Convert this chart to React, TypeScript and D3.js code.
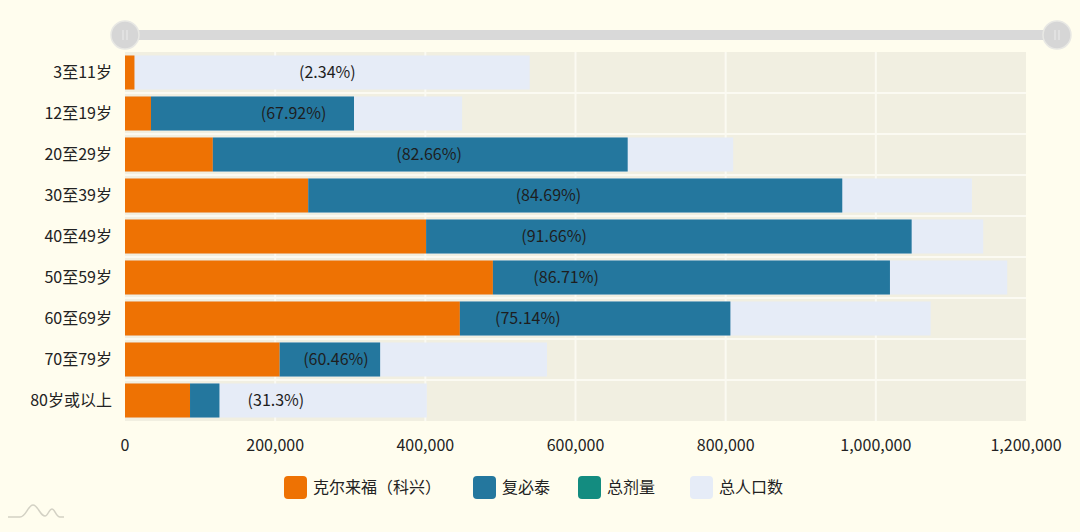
import React, { useRef, useEffect } from 'react';
import * as d3 from 'd3';

// 年龄组
const ageGroups = ['3至11岁', '12至19岁', '20至29岁', '30至39岁', '40至49岁', '50至59岁', '60至69岁', '70至79岁', '80岁或以上'];
// 克尔来福（科兴）
const sinovac = [12600, 34600, 117000, 244000, 401000, 490000, 446000, 206000, 86600];
// 复必泰
const biontech = [0, 270400, 552500, 711300, 646700, 528800, 360300, 133800, 39200];
// 总人口数
const population = [539000, 449000, 810000, 1128000, 1143000, 1175000, 1073000, 562000, 402000];
// 接种比例标签
const rateLabels = ['(2.34%)', '(67.92%)', '(82.66%)', '(84.69%)', '(91.66%)', '(86.71%)', '(75.14%)', '(60.46%)', '(31.3%)'];
const xTicks = [0, 200000, 400000, 600000, 800000, 1000000, 1200000];
const legendNames = ['克尔来福（科兴）', '复必泰', '总剂量', '总人口数'];

const W = 1080, H = 532;
const colors = ['#ee7203', '#24779e', '#138c80', '#e6ecf7'];
const FONT = '"Noto Sans CJK SC", "Noto Sans", sans-serif';
const FS = 16;

const App = () => {
  const ref = useRef<SVGSVGElement>(null);

  useEffect(() => {
    const svg = d3.select(ref.current);
    svg.selectAll('*').remove();

    svg.append('rect').attr('width', W).attr('height', H).attr('fill', '#fffdee');

    const x = d3.scaleLinear().domain([0, 1200000]).range([125, 1026]);
    const y = d3.scaleBand().domain(ageGroups).range([52, 421]).paddingInner(0.17).paddingOuter(0.085);

    // 背景
    svg.append('rect')
      .attr('x', x(0)).attr('y', 52)
      .attr('width', x(1200000) - x(0)).attr('height', 369)
      .attr('fill', '#f1efe1');

    // 网格线
    svg.selectAll('.vgrid')
      .data(xTicks.slice(1, -1))
      .enter().append('line')
        .attr('x1', d => x(d)).attr('x2', d => x(d))
        .attr('y1', 52).attr('y2', 421)
        .attr('stroke', '#fbfaf2').attr('stroke-width', 2);

    const step = y.step();
    svg.selectAll('.hgrid')
      .data(ageGroups.slice(1))
      .enter().append('line')
        .attr('x1', x(0)).attr('x2', x(1200000))
        .attr('y1', d => (y(d) as number) - (step - y.bandwidth()) / 2)
        .attr('y2', d => (y(d) as number) - (step - y.bandwidth()) / 2)
        .attr('stroke', '#fbfaf2').attr('stroke-width', 2);

    const rows = ageGroups.map((g, i) => ({ g, s: sinovac[i], b: biontech[i], p: population[i], label: rateLabels[i] }));

    // 总人口数
    svg.selectAll('.pop')
      .data(rows)
      .enter().append('rect')
        .attr('x', x(0))
        .attr('y', d => y(d.g) as number)
        .attr('width', d => x(d.p) - x(0))
        .attr('height', y.bandwidth())
        .attr('fill', colors[3]);

    // 科兴
    svg.selectAll('.sv')
      .data(rows)
      .enter().append('rect')
        .attr('x', x(0))
        .attr('y', d => y(d.g) as number)
        .attr('width', d => x(d.s) - x(0))
        .attr('height', y.bandwidth())
        .attr('fill', colors[0]);

    // 复必泰
    svg.selectAll('.bt')
      .data(rows.filter(d => d.b > 0))
      .enter().append('rect')
        .attr('x', d => x(d.s))
        .attr('y', d => y(d.g) as number)
        .attr('width', d => x(d.s + d.b) - x(d.s))
        .attr('height', y.bandwidth())
        .attr('fill', colors[1]);

    // 比例标签
    svg.selectAll('.lbl')
      .data(rows)
      .enter().append('text')
        .attr('x', d => (x(0) + x(d.p)) / 2)
        .attr('y', d => (y(d.g) as number) + y.bandwidth() / 2)
        .attr('dy', '0.35em')
        .attr('text-anchor', 'middle')
        .attr('font-family', FONT).attr('font-size', FS)
        .attr('fill', '#1e1e1e')
        .text(d => d.label);

    // y 轴标签
    svg.selectAll('.ylab')
      .data(ageGroups)
      .enter().append('text')
        .attr('x', 112)
        .attr('y', d => (y(d) as number) + y.bandwidth() / 2)
        .attr('dy', '0.35em')
        .attr('text-anchor', 'end')
        .attr('font-family', FONT).attr('font-size', FS)
        .attr('fill', '#222')
        .text(d => d);

    // x 轴标签
    svg.selectAll('.xlab')
      .data(xTicks)
      .enter().append('text')
        .attr('x', d => x(d))
        .attr('y', 445)
        .attr('dy', '0.35em')
        .attr('text-anchor', 'middle')
        .attr('font-family', FONT).attr('font-size', FS)
        .attr('fill', '#222')
        .text(d => d3.format(',')(d));

    // 滑块
    svg.append('rect')
      .attr('x', 125).attr('y', 30).attr('width', 932).attr('height', 10)
      .attr('rx', 5).attr('fill', '#d9d9d9');
    [125, 1057].forEach(cx => {
      svg.append('circle').attr('cx', cx).attr('cy', 35).attr('r', 14)
        .attr('fill', '#d6d6d6').attr('stroke', '#e8e8e4').attr('stroke-width', 1.5);
      [-2, 2].forEach(dx => {
        svg.append('line')
          .attr('x1', cx + dx).attr('x2', cx + dx)
          .attr('y1', 30).attr('y2', 40)
          .attr('stroke', '#ececec').attr('stroke-width', 1);
      });
    });

    // 图例
    const legendX = [284, 473, 578, 690];
    const lg = svg.selectAll('.lg')
      .data(legendNames)
      .enter().append('g')
        .attr('transform', (d, i) => `translate(${legendX[i]},476)`);
    lg.append('rect')
      .attr('width', 23).attr('height', 23).attr('rx', 4)
      .attr('fill', (d, i) => colors[i]);
    lg.append('text')
      .attr('x', 29).attr('y', 11.5).attr('dy', '0.35em')
      .attr('font-family', FONT).attr('font-size', FS)
      .attr('fill', '#222')
      .text(d => d);

    // 左下角标志
    svg.append('path')
      .attr('d', 'M8,517 L20,517 C26,517 28,505 33,505 C38,505 40,516 45,516 C48,516 49,509 52,509 C55,509 56,517 60,517 L64,517')
      .attr('fill', 'none').attr('stroke', '#d3d1c4').attr('stroke-width', 1.5);
  }, []);

  return (
    <div style={{ position: 'fixed', left: 0, top: 0 }}>
      <svg ref={ref} width={W} height={H}></svg>
    </div>
  );
};

export default App;
